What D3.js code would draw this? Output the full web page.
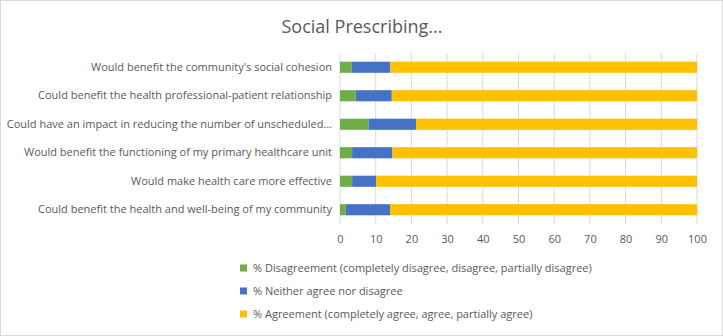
<!DOCTYPE html>
<html><head><meta charset="utf-8">
<script src="https://cdn.jsdelivr.net/npm/d3@7"></script>
<style>body{margin:0;background:#fff}text{font-family:"Open Sans",sans-serif;fill:#595959}</style>
</head><body><svg id="c" width="723" height="336"></svg>
<script>
const categories = [
  "Would benefit the community's social cohesion",
  "Could benefit the health professional-patient relationship",
  "Could have an impact in reducing the number of unscheduled…",
  "Would benefit the functioning of my primary healthcare unit",
  "Would make health care more effective",
  "Could benefit the health and well-being of my community"
];
const disagreement = [3.3, 4.4, 8.0, 3.4, 3.4, 1.6];
const neither = [10.8, 10.1, 13.3, 11.3, 6.7, 12.4];
const agreement = [85.9, 85.5, 78.7, 85.3, 89.9, 86.0];
const seriesNames = [
  "% Disagreement (completely disagree, disagree, partially disagree)",
  "% Neither agree nor disagree",
  "% Agreement (completely agree, agree, partially agree)"
];
const colors = ["#70AD47", "#4472C4", "#FFC000"];
const ticks = [0,10,20,30,40,50,60,70,80,90,100];

const svg = d3.select("#c");
svg.append("rect").attr("x",0.5).attr("y",0.5).attr("width",722).attr("height",335)
  .attr("fill","#fff").attr("stroke","#d9d9d9");
svg.append("text").attr("x",362).attr("y",33).attr("text-anchor","middle")
  .style("font-size","18px").text("Social Prescribing...");

const x = d3.scaleLinear().domain([0,100]).range([340,697]);
const y = d3.scaleBand().domain(categories).range([53,224]).paddingInner(0.61).paddingOuter(0.305);

svg.append("g").selectAll("line").data(ticks).join("line")
  .attr("x1",d=>x(d)).attr("x2",d=>x(d)).attr("y1",53).attr("y2",224)
  .attr("stroke","#d9d9d9").attr("stroke-width",1);

const rows = categories.map((c,i)=>({c, vals:[disagreement[i],neither[i],agreement[i]]}));
const stackData = rows.map(r=>({c:r.c, s0:r.vals[0], s1:r.vals[1], s2:r.vals[2]}));
const stack = d3.stack().keys(["s0","s1","s2"])(stackData);
svg.append("g").selectAll("g").data(stack).join("g").attr("fill",(d,i)=>colors[i])
  .selectAll("rect").data(d=>d).join("rect")
  .attr("x",d=>x(d[0])).attr("width",d=>x(d[1])-x(d[0]))
  .attr("y",d=>y(d.data.c)).attr("height",y.bandwidth());

const xAxis = svg.append("g").attr("transform","translate(0,224)")
  .call(d3.axisBottom(x).tickValues(ticks).tickSize(0).tickPadding(11));
xAxis.select(".domain").remove();
xAxis.selectAll("text").style("font-size","11px").attr("fill","#595959");

const yAxis = svg.append("g").attr("transform","translate(340,0)")
  .call(d3.axisLeft(y).tickSize(0).tickPadding(8));
yAxis.select(".domain").remove();
yAxis.selectAll("text").style("font-size","11px").attr("fill","#595959");

const leg = svg.append("g").selectAll("g").data(seriesNames).join("g")
  .attr("transform",(d,i)=>`translate(240,${268+i*23})`);
leg.append("rect").attr("x",0).attr("y",-3.5).attr("width",7).attr("height",7).attr("fill",(d,i)=>colors[i]);
leg.append("text").attr("x",13).attr("y",0).attr("dy","0.35em").style("font-size","11px").text(d=>d);
</script></body></html>
